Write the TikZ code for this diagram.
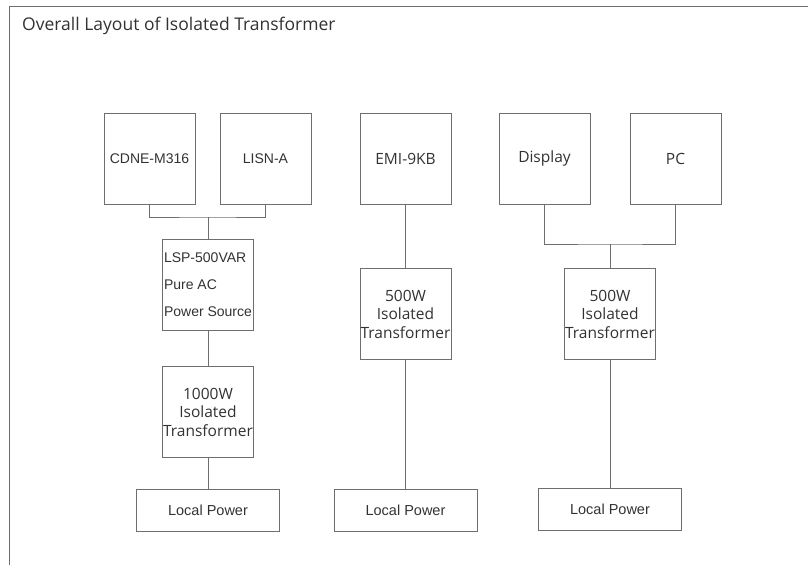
\documentclass[tikz,border=0pt]{standalone}
\usepackage{fontspec}
\setmainfont{Liberation Sans}
\newfontfamily\humfont{Open Sans}
\definecolor{linegray}{RGB}{110,110,110}
\definecolor{textgray}{RGB}{50,50,50}
\tikzstyle{unit} = [rectangle, minimum width=91pt, minimum height=91pt, inner sep=0.5pt, align=center, draw=linegray, line width=1pt, text=textgray, font=\fontsize{14}{17}\selectfont]
\tikzstyle{xfmr} = [unit, text width=90pt, font=\humfont\fontsize{15.5}{18.5}\selectfont]
\tikzstyle{supply} = [rectangle, minimum width=143pt, minimum height=42pt, align=center, draw=linegray, line width=1pt, text=textgray, font=\fontsize{14.5}{16}\selectfont]
\tikzstyle{wire} = [draw=linegray, line width=1pt]

\begin{document}
\begin{tikzpicture}[x=1pt, y=-1pt, node distance=116pt]
    \useasboundingbox (0,0) rectangle (808,565);

    % frame and title
    \draw [wire] (808,6) -- (9,6) -- (9,565);
    \node (title) [anchor=west, inner sep=0pt, text=textgray, font=\humfont\fontsize{17.5}{20}\selectfont] at (22,26) {Overall Layout of Isolated Transformer};

    % top row
    \node (cdne) [unit] at (149.5,158.5) {CDNE-M316};
    \node (lisn) [unit, right of=cdne] {LISN-A};
    \node (emi) [xfmr, right of=lisn, xshift=24pt] {EMI-9KB};
    \node (disp) [xfmr, right of=emi, xshift=23pt] {Display};
    \node (pc) [xfmr, right of=disp, xshift=15pt] {PC};

    % left branch
    \node (lsp) [unit, align=left, font=\fontsize{14}{27}\selectfont] at (208,285) {LSP-500VAR\\Pure AC\\Power Source};
    \node (iso1000) [xfmr, below of=lsp, node distance=127pt] {1000W\\Isolated\\Transformer};
    \node (local1) [supply, below of=iso1000, node distance=98pt] {Local Power};

    % middle branch
    \node (iso500a) [xfmr, below of=emi, node distance=155.5pt] {500W\\Isolated\\Transformer};
    \node (local2) [supply, below of=iso500a, node distance=196pt] {Local Power};

    % right branch
    \node (iso500b) [xfmr] at (610,314) {500W\\Isolated\\Transformer};
    \node (local3) [supply, below of=iso500b, node distance=195pt] {Local Power};

    \coordinate (joinL) at (208,217);
    \coordinate (joinR) at (610,244);

    \draw [wire] (cdne.south) |- (joinL) -| (lisn.south);
    \draw [wire] (joinL) -- (lsp.north);
    \draw [wire] (lsp) -- (iso1000);
    \draw [wire] (iso1000) -- (local1);
    \draw [wire] (emi) -- (iso500a);
    \draw [wire] (iso500a) -- (local2);
    \draw [wire] (disp.south) |- (joinR) -| (pc.south);
    \draw [wire] (joinR) -- (iso500b.north);
    \draw [wire] (iso500b) -- (local3);

\end{tikzpicture}
\end{document}
